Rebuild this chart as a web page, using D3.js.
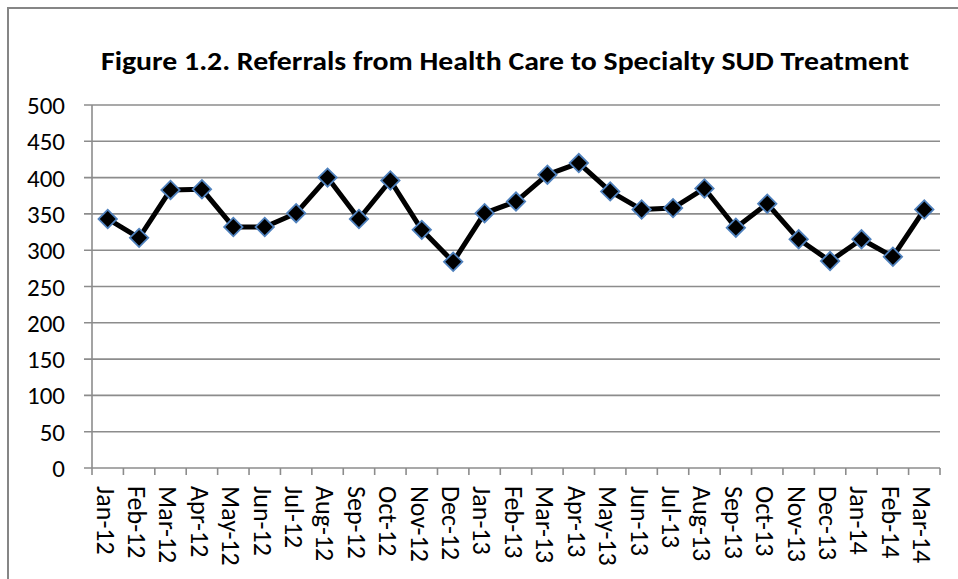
<!DOCTYPE html>
<html>
<head>
<meta charset="utf-8">
<script src="https://cdn.jsdelivr.net/npm/d3@7"></script>
<style>
  body { margin: 0; background: #fff; }
  text { font-family: Carlito, "Liberation Sans", Arial, sans-serif; fill: #000; }
</style>
</head>
<body>
<div id="chart"></div>
<script>
// Chart data
var months = ["Jan-12", "Feb-12", "Mar-12", "Apr-12", "May-12", "Jun-12", "Jul-12", "Aug-12", "Sep-12",
              "Oct-12", "Nov-12", "Dec-12", "Jan-13", "Feb-13", "Mar-13", "Apr-13", "May-13", "Jun-13",
              "Jul-13", "Aug-13", "Sep-13", "Oct-13", "Nov-13", "Dec-13", "Jan-14", "Feb-14", "Mar-14"];
var referrals = [343, 317, 383, 384, 332, 332, 351, 400, 343,
                 396, 328, 284, 351, 367, 404, 420, 381, 356,
                 358, 385, 331, 364, 315, 285, 315, 291, 356];
var yTicks = [0, 50, 100, 150, 200, 250, 300, 350, 400, 450, 500];
var title = "Figure 1.2. Referrals from Health Care to Specialty SUD Treatment";

var W = 958, H = 579;
var margin = {top: 105, right: 18, bottom: 111, left: 92},
    width = W - margin.left - margin.right,
    height = H - margin.top - margin.bottom;

var svg = d3.select("#chart").append("svg")
    .attr("width", W)
    .attr("height", H);

// outer chart border
svg.append("rect")
    .attr("x", 8).attr("y", 8)
    .attr("width", W).attr("height", H)
    .attr("fill", "none")
    .attr("stroke", "#868686")
    .attr("stroke-width", 2);

svg.append("text")
    .attr("x", 505).attr("y", 70)
    .attr("text-anchor", "middle")
    .style("font-size", "26px")
    .style("font-weight", "bold")
    .attr("textLength", 808)
    .attr("lengthAdjust", "spacingAndGlyphs")
    .text(title);

var g = svg.append("g")
    .attr("transform", "translate(" + margin.left + "," + margin.top + ")");

var x = d3.scaleBand().domain(months).range([0, width]);
var y = d3.scaleLinear().domain([0, 500]).range([height, 0]);

// gridlines
g.selectAll(".grid")
    .data(yTicks)
    .enter().append("line")
    .attr("x1", -8).attr("x2", width)
    .attr("y1", function(d) { return y(d); })
    .attr("y2", function(d) { return y(d); })
    .attr("stroke", "#8c8c8c")
    .attr("stroke-width", 1.6);

// y axis line
g.append("line")
    .attr("x1", 0).attr("x2", 0)
    .attr("y1", 0).attr("y2", height)
    .attr("stroke", "#8c8c8c")
    .attr("stroke-width", 1.6);

g.selectAll(".ylab")
    .data(yTicks)
    .enter().append("text")
    .attr("x", -27)
    .attr("y", function(d) { return y(d); })
    .attr("dy", "0.36em")
    .attr("text-anchor", "end")
    .style("font-size", "25px")
    .text(function(d) { return d; });

// x axis ticks at band edges
var edges = months.map(function(m) { return x(m); }).concat([width]);
g.selectAll(".xtick")
    .data(edges)
    .enter().append("line")
    .attr("x1", function(d) { return d; })
    .attr("x2", function(d) { return d; })
    .attr("y1", height).attr("y2", height + 7)
    .attr("stroke", "#8c8c8c")
    .attr("stroke-width", 1.6);

g.selectAll(".xlab")
    .data(months)
    .enter().append("text")
    .attr("transform", function(d) {
      return "translate(" + (x(d) + x.bandwidth() / 2 - 2) + "," + (height + 18) + ") rotate(90)";
    })
    .attr("dy", "0.35em")
    .attr("text-anchor", "start")
    .style("font-size", "26px")
    .text(function(d) { return d; });

// the line
var line = d3.line()
    .x(function(d, i) { return x(months[i]) + x.bandwidth() / 2; })
    .y(function(d) { return y(d); });

g.append("path")
    .datum(referrals)
    .attr("d", line)
    .attr("fill", "none")
    .attr("stroke", "#000")
    .attr("stroke-width", 5)
    .attr("stroke-linejoin", "round");

// diamond markers
g.selectAll(".pt")
    .data(referrals)
    .enter().append("rect")
    .attr("width", 13).attr("height", 13)
    .attr("x", -6.5).attr("y", -6.5)
    .attr("transform", function(d, i) {
      return "translate(" + (x(months[i]) + x.bandwidth() / 2) + "," + y(d) + ") rotate(45)";
    })
    .attr("fill", "#000")
    .attr("stroke", "#4f81bd")
    .attr("stroke-width", 1.8);
</script>
</body>
</html>
